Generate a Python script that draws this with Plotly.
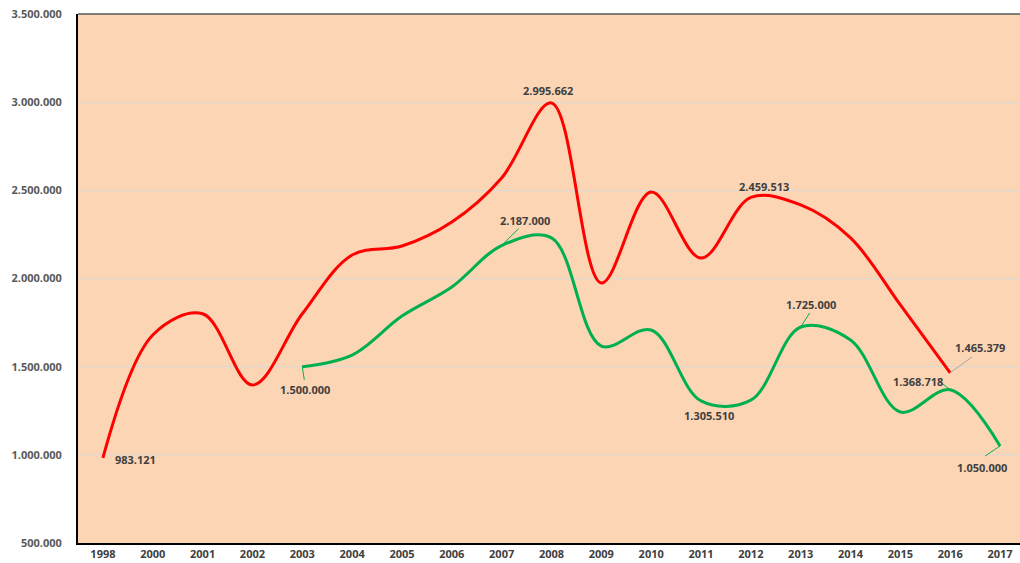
import plotly.graph_objects as go

years = ["1998", "2000", "2001", "2002", "2003", "2004", "2005", "2006", "2007", "2008",
         "2009", "2010", "2011", "2012", "2013", "2014", "2015", "2016", "2017"]

red_values = [983121, 1680000, 1800000, 1396000, 1800000, 2133000, 2184000, 2320000, 2570000,
              2995662, 1975000, 2490000, 2116000, 2459513, 2417000, 2230000, 1850000, 1465379, None]

green_values = [None, None, None, None, 1500000, 1566000, 1787000, 1952000, 2187000, 2230000,
                1617000, 1708000, 1305510, 1310000, 1725000, 1651000, 1243000, 1368718, 1050000]

red_labels = [("1998", 983121), ("2008", 2995662), ("2012", 2459513), ("2016", 1465379)]
green_labels = [("2003", 1500000), ("2007", 2187000), ("2011", 1305510), ("2013", 1725000),
                ("2016", 1368718), ("2017", 1050000)]

RED = "#FF0000"
GREEN = "#00B050"
LABEL_COLOR = "#404040"
FONT = "Open Sans"

xi = list(range(len(years)))
pos = {y: i for i, y in enumerate(years)}

def fmt(v):
    return f"{v:,}".replace(",", ".")

fig = go.Figure()
fig.add_trace(go.Scatter(x=xi, y=red_values, mode="lines",
                         line=dict(color=RED, width=3, shape="spline", smoothing=1),
                         connectgaps=False, showlegend=False, hoverinfo="skip"))
fig.add_trace(go.Scatter(x=xi, y=green_values, mode="lines",
                         line=dict(color=GREEN, width=3, shape="spline", smoothing=1),
                         connectgaps=False, showlegend=False, hoverinfo="skip"))

# text centre offsets (px, y up) and leader-line end offsets (px, y up)
red_place = {"1998": (33, -2, None), "2008": (-3, 12, None), "2012": (13, 11, None),
             "2016": (30, 25, (22, 16))}
green_place = {"2003": (3, -23, (2, -13)), "2007": (23, 25, (17, 17)), "2011": (8, -15, None),
               "2013": (10, 22, (9, 14)), "2016": (-32, 8, (-10, 8)),
               "2017": (-18, -21, (-15, -10))}

items = [(l, red_place, "#A6A6A6") for l in red_labels] + \
        [(l, green_place, GREEN) for l in green_labels]
for (yr, v), place, lc in items:
    dx, dy, lead = place[yr]
    fig.add_annotation(x=pos[yr], y=v, text=fmt(v), showarrow=False, xshift=dx, yshift=dy,
                       font=dict(family=FONT, size=11, color=LABEL_COLOR, weight="bold"))
    if lead is not None:
        fig.add_shape(type="line", xref="x", yref="y", xsizemode="pixel", ysizemode="pixel",
                      xanchor=pos[yr], yanchor=v, x0=0, y0=0, x1=lead[0], y1=lead[1],
                      line=dict(color=lc, width=1))

fig.add_shape(type="line", xref="paper", yref="paper", x0=0, x1=1, y0=1, y1=1,
              line=dict(color="#595959", width=1.5))

fig.update_layout(
    width=1020, height=563,
    margin=dict(l=78, r=0, t=14, b=20),
    paper_bgcolor="white",
    plot_bgcolor="#FCD5B4",
    separators=",.",
    xaxis=dict(range=[-0.5, 18.4], tickvals=xi, ticktext=years, showgrid=False, showline=True,
               linecolor="black", linewidth=2, ticks="", zeroline=False,
               tickfont=dict(family=FONT, size=11, color="#404040", weight="bold")),
    yaxis=dict(range=[500000, 3500000], dtick=500000, tickformat=",d", showgrid=True,
               gridcolor="#D9D9D9", gridwidth=1, showline=True, linecolor="black",
               linewidth=2, ticks="", zeroline=False, ticklabelstandoff=12,
               tickfont=dict(family=FONT, size=11, color="#595959", weight="bold")),
)

fig.write_html("out.html", post_script="document.body.style.margin='0';",
               config={"displayModeBar": False})
